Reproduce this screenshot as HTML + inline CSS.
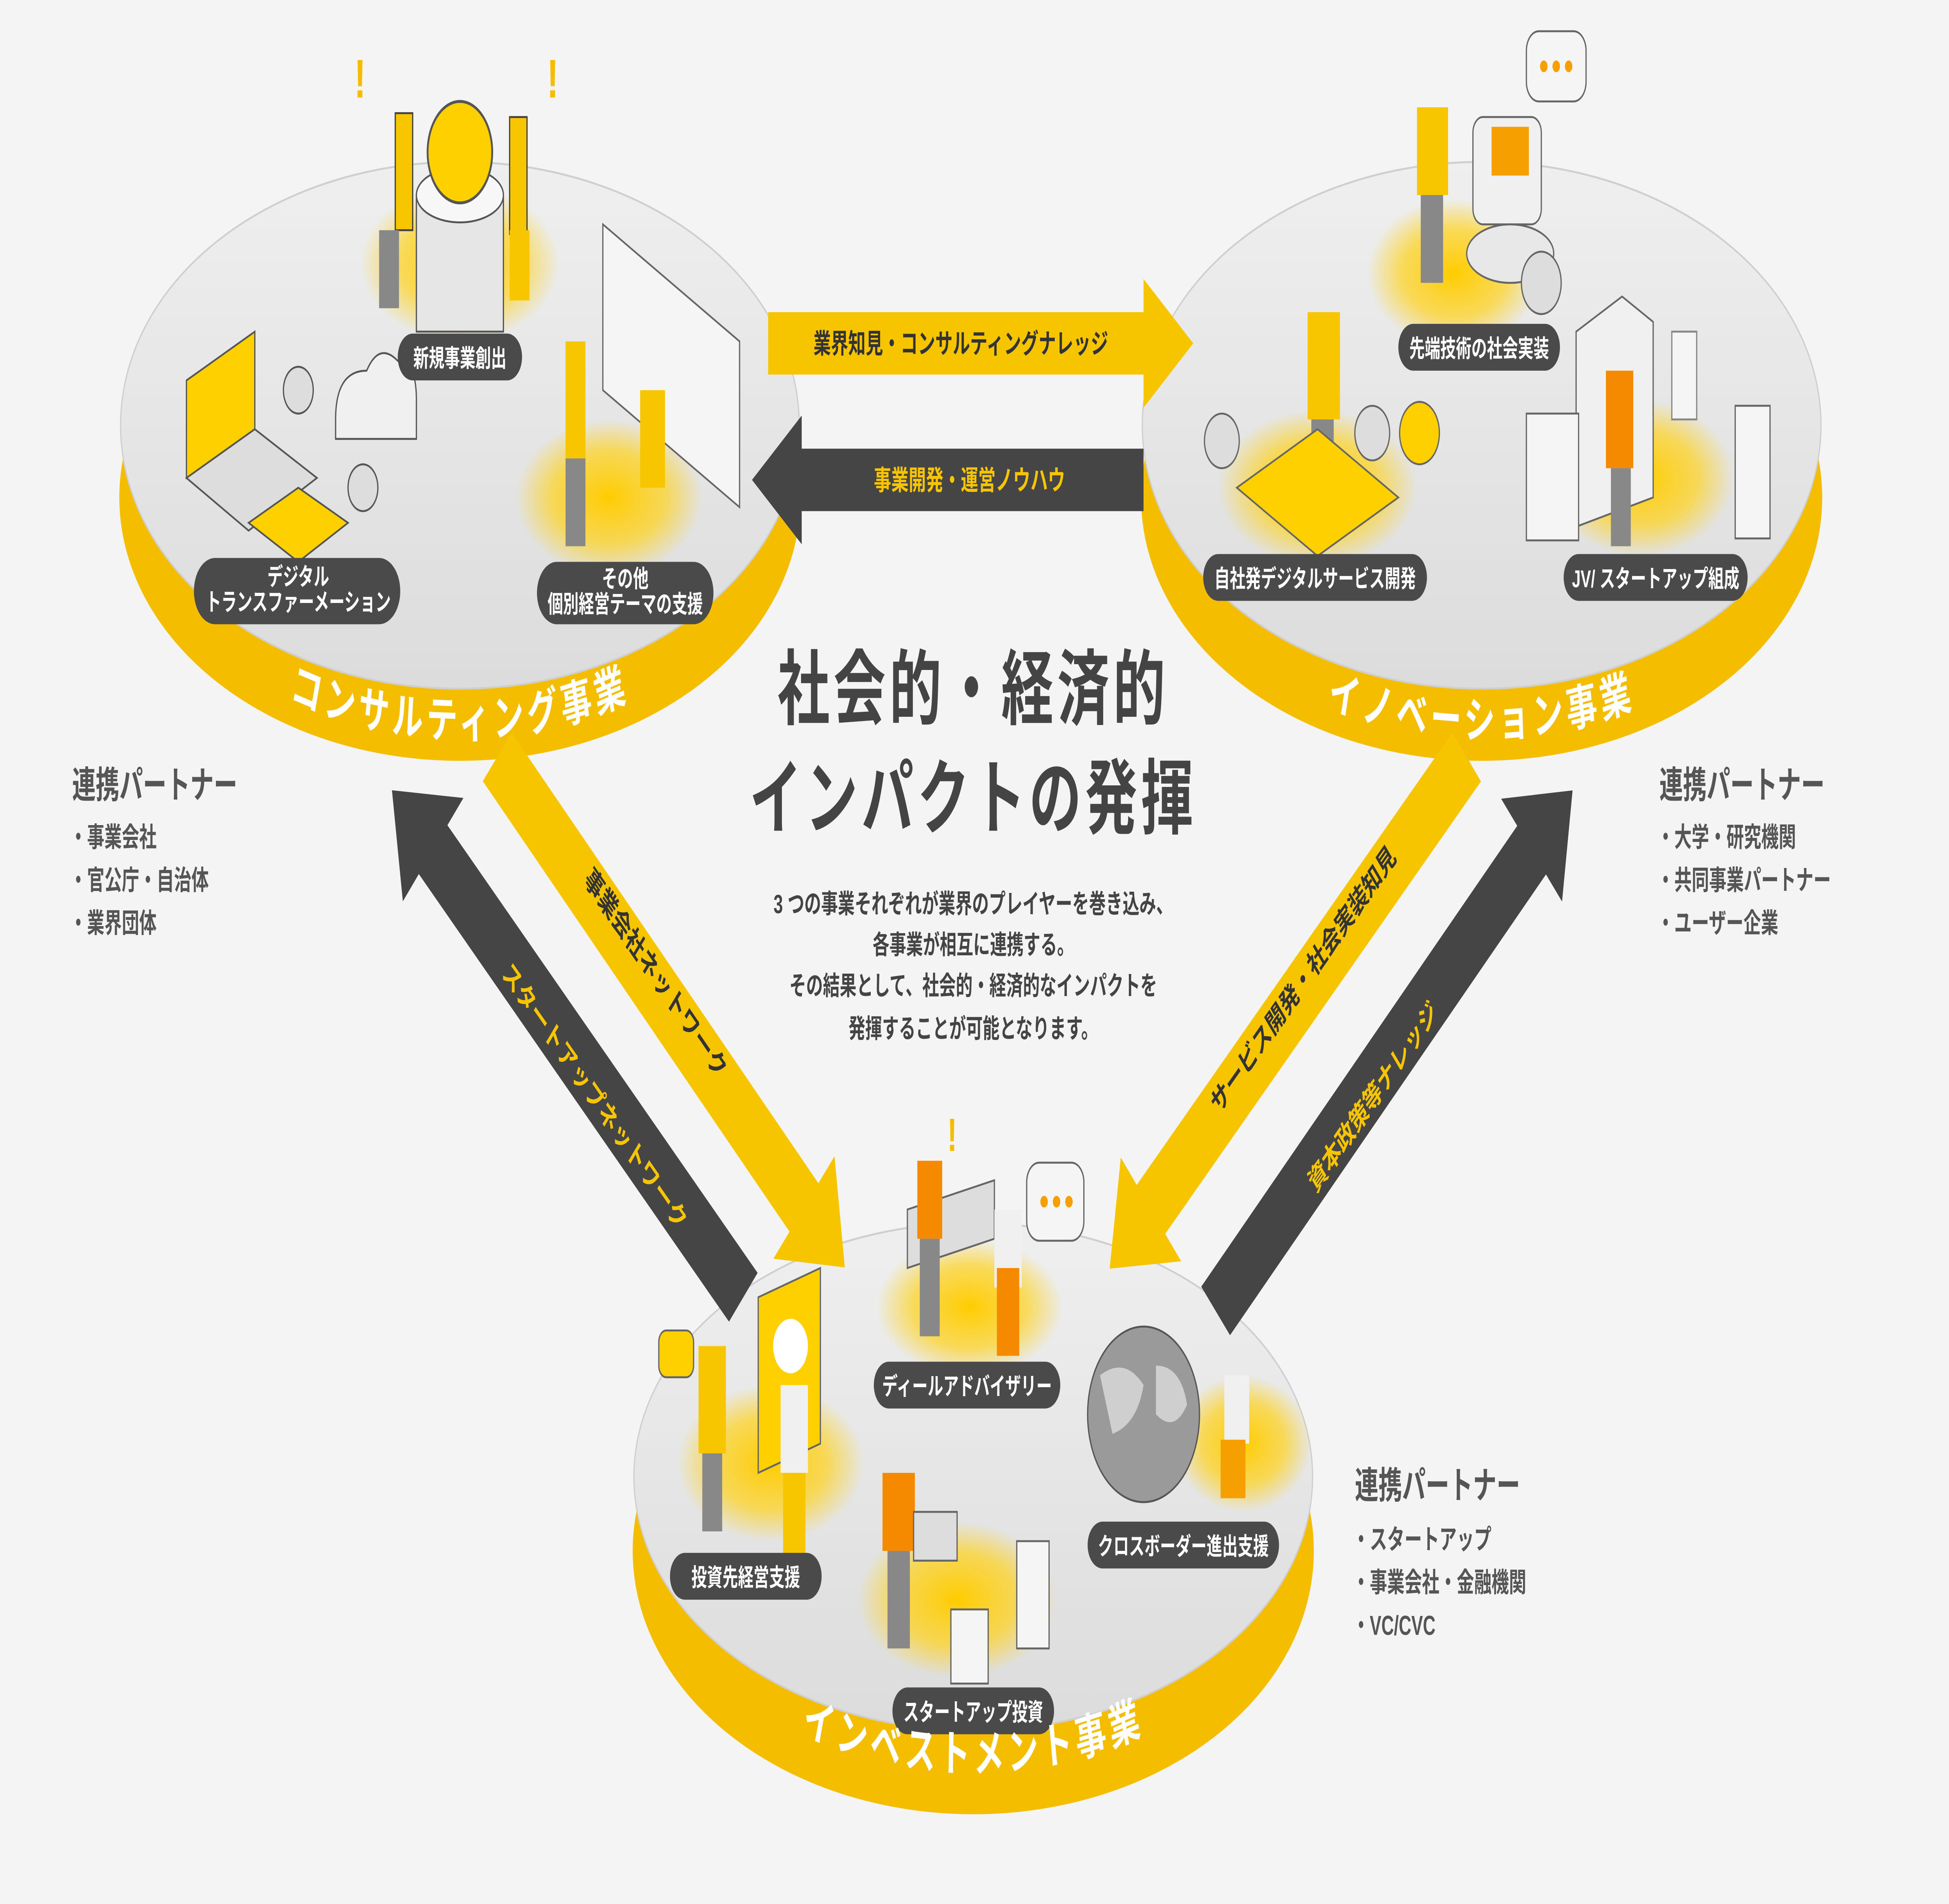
<!DOCTYPE html>
<html><head><meta charset="utf-8">
<style>
html,body{margin:0;padding:0;background:#f4f4f4;width:100%;height:100%;overflow:hidden;}
svg{display:block;width:100vw;height:100vh;}
text{font-family:"Liberation Sans","Noto Sans CJK JP",sans-serif;}
</style></head>
<body>
<svg viewBox="0 0 1568 976" preserveAspectRatio="none" xmlns="http://www.w3.org/2000/svg">
<defs>
<radialGradient id="glow" cx="50%" cy="50%" r="50%">
<stop offset="0" stop-color="#ffcc00" stop-opacity="1"/>
<stop offset="0.6" stop-color="#ffd21a" stop-opacity="0.7"/>
<stop offset="1" stop-color="#ffd21a" stop-opacity="0"/>
</radialGradient>
<linearGradient id="top" x1="0" y1="0" x2="0" y2="1">
<stop offset="0" stop-color="#efefef"/><stop offset="1" stop-color="#dcdcdc"/>
</linearGradient>
<path id="arcC" d="M 112,250 A 258,128 0 0 0 628,250"/>
<path id="arcI" d="M 934,250 A 258,128 0 0 0 1450,250"/>
<path id="arcV" d="M 525,780 A 258,128 0 0 0 1041,780"/>
</defs>
<rect width="1568" height="976" fill="#f4f4f4"/>

<g>
<ellipse cx="370" cy="255" rx="274" ry="135" fill="#f5bd00"/>
<ellipse cx="370" cy="218" rx="273" ry="135" fill="url(#top)" stroke="#cfcfcf" stroke-width="1"/>
<ellipse cx="1192" cy="255" rx="274" ry="135" fill="#f5bd00"/>
<ellipse cx="1192" cy="218" rx="273" ry="135" fill="url(#top)" stroke="#cfcfcf" stroke-width="1"/>
<ellipse cx="783" cy="795" rx="274" ry="135" fill="#f5bd00"/>
<ellipse cx="783" cy="757" rx="273" ry="130" fill="url(#top)" stroke="#cfcfcf" stroke-width="1"/>
</g>

<g>
<ellipse cx="370" cy="135" rx="80" ry="40" fill="url(#glow)"/>
<ellipse cx="490" cy="255" rx="75" ry="40" fill="url(#glow)"/>
<ellipse cx="1170" cy="140" rx="70" ry="38" fill="url(#glow)"/>
<ellipse cx="1060" cy="250" rx="80" ry="40" fill="url(#glow)"/>
<ellipse cx="1320" cy="245" rx="75" ry="40" fill="url(#glow)"/>
<ellipse cx="780" cy="670" rx="75" ry="35" fill="url(#glow)"/>
<ellipse cx="620" cy="750" rx="75" ry="40" fill="url(#glow)"/>
<ellipse cx="770" cy="820" rx="80" ry="40" fill="url(#glow)"/>
<ellipse cx="1000" cy="740" rx="55" ry="35" fill="url(#glow)"/>
</g>

<g>
<rect x="335" y="100" width="70" height="70" fill="#e6e6e6" stroke="#555" stroke-width="1"/>
<ellipse cx="370" cy="100" rx="35" ry="14" fill="#f7f7f7" stroke="#555"/>
<circle cx="370" cy="78" r="26" fill="#ffd000" stroke="#555" stroke-width="1.5"/>
<rect x="318" y="58" width="14" height="60" fill="#f7c600" stroke="#444"/>
<rect x="410" y="60" width="14" height="60" fill="#f7c600" stroke="#444"/>
<rect x="305" y="118" width="16" height="40" fill="#888"/>
<rect x="410" y="118" width="16" height="36" fill="#f7c600"/>
<text x="285" y="50" font-size="28" font-weight="bold" fill="#f5bd00">!</text>
<text x="440" y="50" font-size="28" font-weight="bold" fill="#f5bd00">!</text>
<polygon points="150,195 205,170 205,220 150,245" fill="#ffd000" stroke="#555"/>
<polygon points="150,245 205,220 255,245 200,272" fill="#ddd" stroke="#555"/>
<circle cx="240" cy="200" r="12" fill="#ddd" stroke="#555"/>
<circle cx="292" cy="250" r="12" fill="#ddd" stroke="#555"/>
<path d="M270,215 q0,-25 25,-25 q10,-15 25,-5 q15,0 15,20 l0,20 l-65,0z" fill="#f0f0f0" stroke="#555"/>
<polygon points="200,268 240,250 280,268 240,288" fill="#ffd000" stroke="#555"/>
<polygon points="485,115 595,175 595,260 485,200" fill="#f5f5f5" stroke="#666"/>
<rect x="455" y="175" width="16" height="60" fill="#f7c600"/>
<rect x="455" y="235" width="16" height="45" fill="#888"/>
<rect x="515" y="200" width="20" height="50" fill="#f7c600"/>
<rect x="1140" y="55" width="25" height="45" fill="#f7c600"/>
<rect x="1143" y="100" width="18" height="45" fill="#888"/>
<rect x="1185" y="60" width="55" height="55" rx="8" fill="#f0f0f0" stroke="#666"/>
<rect x="1200" y="65" width="30" height="25" fill="#f5a000"/>
<ellipse cx="1215" cy="130" rx="35" ry="15" fill="#e8e8e8" stroke="#666"/>
<circle cx="1240" cy="145" r="16" fill="#ddd" stroke="#666"/>
<rect x="1228" y="16" width="48" height="36" rx="10" fill="#f5f5f5" stroke="#666"/>
<circle cx="1242" cy="34" r="3" fill="#f5a000"/><circle cx="1252" cy="34" r="3" fill="#f5a000"/><circle cx="1262" cy="34" r="3" fill="#f5a000"/>
<rect x="1052" y="160" width="26" height="55" fill="#f7c600"/>
<rect x="1055" y="215" width="18" height="50" fill="#888"/>
<polygon points="995,250 1060,220 1125,255 1060,285" fill="#ffd000" stroke="#666"/>
<circle cx="983" cy="226" r="14" fill="#ddd" stroke="#666"/>
<circle cx="1104" cy="222" r="14" fill="#ddd" stroke="#666"/>
<circle cx="1142" cy="222" r="16" fill="#ffd000" stroke="#666"/>
<polygon points="1268,170 1305,152 1330,165 1330,255 1268,270" fill="#f0f0f0" stroke="#666"/>
<rect x="1228" y="212" width="42" height="65" fill="#f5f5f5" stroke="#666"/>
<rect x="1292" y="190" width="22" height="50" fill="#f58a00"/>
<rect x="1296" y="240" width="16" height="40" fill="#888"/>
<rect x="1345" y="170" width="20" height="45" fill="#f5f5f5" stroke="#888"/>
<rect x="1396" y="208" width="28" height="68" fill="#f5f5f5" stroke="#666"/>
<polygon points="730,620 800,605 800,635 730,650" fill="#ddd" stroke="#666"/>
<rect x="738" y="595" width="20" height="40" fill="#f58a00"/>
<rect x="740" y="635" width="16" height="50" fill="#888"/>
<rect x="800" y="620" width="22" height="40" fill="#f0f0f0"/>
<rect x="802" y="650" width="18" height="45" fill="#f58a00"/>
<rect x="826" y="596" width="46" height="40" rx="10" fill="#f5f5f5" stroke="#666"/>
<circle cx="840" cy="616" r="3" fill="#f5a000"/><circle cx="850" cy="616" r="3" fill="#f5a000"/><circle cx="860" cy="616" r="3" fill="#f5a000"/>
<text x="762" y="590" font-size="24" font-weight="bold" fill="#f5bd00">!</text>
<polygon points="610,665 660,650 660,740 610,755" fill="#ffd000" stroke="#666"/>
<circle cx="636" cy="690" r="14" fill="#fff"/>
<rect x="562" y="690" width="22" height="55" fill="#f7c600"/>
<rect x="565" y="745" width="16" height="40" fill="#888"/>
<rect x="628" y="710" width="22" height="45" fill="#f0f0f0"/>
<rect x="630" y="755" width="18" height="45" fill="#f7c600"/>
<rect x="530" y="682" width="28" height="24" rx="6" fill="#ffd000" stroke="#666"/>
<circle cx="920" cy="725" r="45" fill="#9a9a9a" stroke="#555"/>
<path d="M885,705 q20,-10 35,5 q-5,20 -25,25z M930,700 q20,0 25,20 q-10,15 -25,5z" fill="#cfcfcf"/>
<rect x="985" y="705" width="20" height="35" fill="#f0f0f0"/>
<rect x="982" y="738" width="20" height="30" fill="#f5a000"/>
<rect x="710" y="755" width="26" height="40" fill="#f58a00"/>
<rect x="714" y="795" width="18" height="50" fill="#888"/>
<rect x="735" y="775" width="35" height="25" fill="#ddd" stroke="#666"/>
<rect x="818" y="790" width="26" height="55" fill="#f5f5f5" stroke="#666"/>
<rect x="765" y="825" width="30" height="38" fill="#f5f5f5" stroke="#666"/>
</g>

<g font-size="12.5" fill="#fff" text-anchor="middle" font-weight="bold">
<rect x="320" y="171" width="100" height="24" rx="12" fill="#4a4a4a"/><text x="370" y="188">新規事業創出</text>
<rect x="156" y="286" width="166" height="34" rx="17" fill="#4a4a4a"/><text x="240" y="300">デジタル</text><text x="240" y="313">トランスファーメーション</text>
<rect x="432" y="288" width="142" height="32" rx="16" fill="#4a4a4a"/><text x="503" y="301">その他</text><text x="503" y="314">個別経営テーマの支援</text>
<rect x="1125" y="166" width="130" height="24" rx="12" fill="#4a4a4a"/><text x="1190" y="183">先端技術の社会実装</text>
<rect x="968" y="284" width="180" height="24" rx="12" fill="#4a4a4a"/><text x="1058" y="301">自社発デジタルサービス開発</text>
<rect x="1258" y="284" width="148" height="24" rx="12" fill="#4a4a4a"/><text x="1332" y="301">JV/ スタートアップ組成</text>
<rect x="703" y="698" width="150" height="24" rx="12" fill="#4a4a4a"/><text x="778" y="715">ディールアドバイザリー</text>
<rect x="539" y="796" width="122" height="24" rx="12" fill="#4a4a4a"/><text x="600" y="813">投資先経営支援</text>
<rect x="875" y="780" width="154" height="24" rx="12" fill="#4a4a4a"/><text x="952" y="797">クロスボーダー進出支援</text>
<rect x="718" y="865" width="130" height="24" rx="12" fill="#4a4a4a"/><text x="783" y="882">スタートアップ投資</text>
</g>

<g font-size="25" font-weight="bold" fill="#fff" letter-spacing="3">
<text><textPath href="#arcC" startOffset="50%" text-anchor="middle">コンサルティング事業</textPath></text>
<text><textPath href="#arcI" startOffset="50%" text-anchor="middle">イノベーション事業</textPath></text>
<text><textPath href="#arcV" startOffset="50%" text-anchor="middle">インベストメント事業</textPath></text>
</g>

<g>
<g transform="translate(618,176)">
<polygon points="0,-16 302,-16 302,-33 342,0 302,33 302,16 0,16" fill="#f7c500"/>
<text x="155" y="5" font-size="14" font-weight="bold" fill="#333" text-anchor="middle">業界知見・コンサルティングナレッジ</text>
</g>
<g transform="translate(920,246) rotate(180)">
<polygon points="0,-16 275,-16 275,-33 315,0 275,33 275,16 0,16" fill="#454545"/>
</g>
<text x="780" y="251" font-size="14" font-weight="bold" fill="#f7c500" text-anchor="middle">事業開発・運営ノウハウ</text>
<g transform="translate(400,388) rotate(43.1)">
<polygon points="0,-17 338,-17 338,-36 383,0 338,36 338,17 0,17" fill="#f7c500"/>
</g>
<g transform="translate(598,665) rotate(222.6)">
<polygon points="0,-17 339,-17 339,-36 384,0 339,36 339,17 0,17" fill="#454545"/>
</g>
<g transform="translate(1180,388) rotate(137.6)">
<polygon points="0,-17 344,-17 344,-36 389,0 344,36 344,17 0,17" fill="#f7c500"/>
</g>
<g transform="translate(978,672) rotate(-42.9)">
<polygon points="0,-17 347,-17 347,-36 392,0 347,36 347,17 0,17" fill="#454545"/>
</g>
<g font-size="15" font-weight="bold" text-anchor="middle">
<text transform="translate(524,503) rotate(43.1)" fill="#333">事業会社ネットワーク</text>
<text transform="translate(475,566) rotate(42.6)" fill="#f7c500">スタートアップネットワーク</text>
<text transform="translate(1052,506) rotate(-42.4)" fill="#333">サービス開発・社会実装知見</text>
<text transform="translate(1108,566) rotate(-42.9)" fill="#f7c500">資本政策等ナレッジ</text>
</g>
</g>

<g fill="#444" text-anchor="middle" font-weight="bold">
<text x="783" y="368" font-size="42" letter-spacing="3">社会的・経済的</text>
<text x="783" y="424" font-size="42" letter-spacing="3">インパクトの発揮</text>
<g font-size="13.5" font-weight="bold" fill="#444">
<text x="783" y="468">3 つの事業それぞれが業界のプレイヤーを巻き込み、</text>
<text x="783" y="489">各事業が相互に連携する。</text>
<text x="783" y="510">その結果として、社会的・経済的なインパクトを</text>
<text x="783" y="532">発揮することが可能となります。</text>
</g>
</g>

<g fill="#555" font-weight="bold">
<text x="58" y="409" font-size="19">連携パートナー</text>
<text x="56" y="434" font-size="14">・事業会社</text>
<text x="56" y="456" font-size="14">・官公庁・自治体</text>
<text x="56" y="478" font-size="14">・業界団体</text>
<text x="1335" y="409" font-size="19">連携パートナー</text>
<text x="1333" y="434" font-size="14">・大学・研究機関</text>
<text x="1333" y="456" font-size="14">・共同事業パートナー</text>
<text x="1333" y="478" font-size="14">・ユーザー企業</text>
<text x="1090" y="768" font-size="19">連携パートナー</text>
<text x="1088" y="794" font-size="14">・スタートアップ</text>
<text x="1088" y="816" font-size="14">・事業会社・金融機関</text>
<text x="1088" y="838" font-size="14">・VC/CVC</text>
</g>
</svg>
</body></html>
